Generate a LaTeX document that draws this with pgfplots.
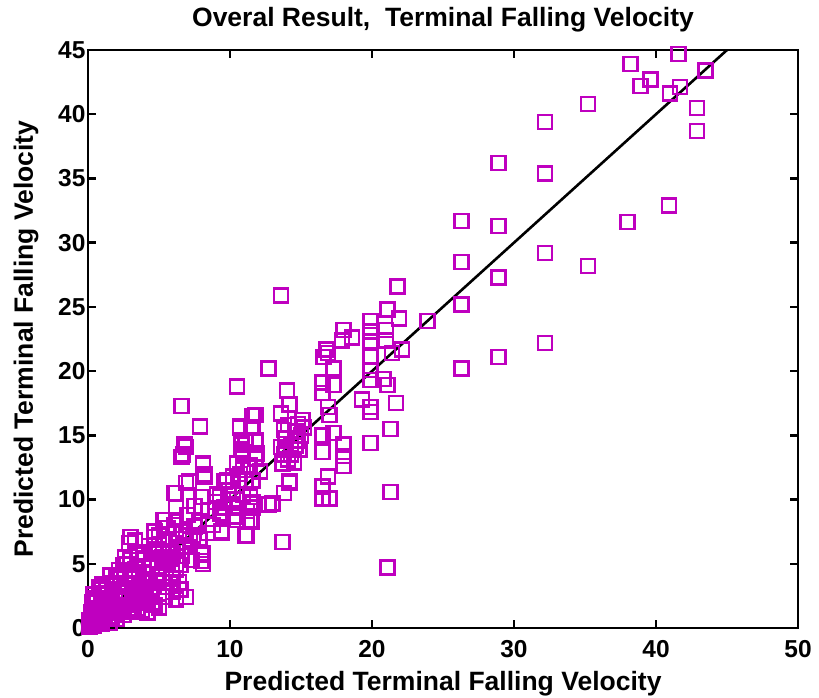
\documentclass[border=0pt]{standalone}
\usepackage{fontspec}
\setmainfont{Liberation Sans}
\usepackage{pgfplots}
\pgfplotsset{compat=1.18}
\definecolor{mag}{RGB}{191,0,191}

\begin{document}
\begin{tikzpicture}
\begin{axis}[
    scale only axis,
    width=710pt, height=578pt,
    xmin=0, xmax=50, ymin=0, ymax=45,
    xtick={0,10,...,50}, ytick={0,5,...,45},
    tick align=inside,
    major tick length=8pt,
    axis line style={line width=2.6pt},
    every tick/.style={black, line width=2.4pt},
    /pgf/number format/assume math mode=true,
    tick label style={font=\bfseries\fontsize{24.5}{26}\selectfont},
    xticklabel style={anchor=base, yshift=-30pt},
    yticklabel style={xshift=1pt},
    title={Overal Result,~~Terminal Falling Velocity},
    title style={font=\bfseries\fontsize{26.5}{28}\selectfont,
        at={(axis description cs:0.5,1.031)}, anchor=base},
    xlabel={Predicted Terminal Falling Velocity},
    ylabel={Predicted Terminal Falling Velocity},
    label style={font=\bfseries\fontsize{26.5}{28}\selectfont},
    xlabel style={at={(axis description cs:0.5,-0.109)}, anchor=base},
    ylabel style={at={(axis description cs:-0.0775,0.5)}, anchor=base},
    clip=false,
]
\addplot[only marks, mark=square, mark size=7pt, mag, line width=2.5pt] coordinates {
(38.2,43.9)(41.6,44.7)(39.6,42.7)(38.9,42.2)(41.0,41.6)(41.7,42.1)(43.5,43.4)
(42.9,40.5)(42.9,38.7)(35.2,40.8)(32.2,39.4)(28.9,36.2)(32.2,35.4)(26.3,31.7)
(28.9,31.3)(26.3,28.5)(28.9,27.3)(32.2,29.2)(35.2,28.2)(38.0,31.6)(40.9,32.9)
(26.3,25.2)(23.9,23.9)(26.3,20.2)(28.9,21.1)(32.2,22.2)
(13.6,25.9)(21.8,26.6)(21.1,24.8)(21.9,24.1)(19.9,23.9)(19.9,23.1)(18.0,23.2)
(18.6,22.6)(17.9,22.4)(21.0,23.2)(21.0,22.4)(22.1,21.7)(21.4,21.4)(19.9,22.3)
(19.9,21.1)(16.9,21.4)(16.8,21.7)(17.3,20.2)(19.9,20.1)(19.9,19.3)(20.8,19.4)
(21.1,18.9)(16.5,19.1)(17.3,18.9)(16.5,18.3)(21.7,17.5)(19.3,17.8)(19.9,17.2)
(19.9,16.8)(16.9,17.2)(17.0,16.6)(14.0,18.5)(14.2,17.4)(13.6,16.7)(21.3,15.5)
(19.9,14.4)(16.5,15.0)(17.3,15.2)(16.5,13.7)(18.0,14.3)(18.0,13.4)(18.0,12.6)
(16.9,11.8)(16.5,11.0)(16.5,10.1)(17.0,10.1)(21.3,10.6)(14.2,11.3)(13.8,10.5)
(13.0,9.7)(12.7,20.2)(21.1,4.7)(13.7,6.7)(16.6,21.1)
(13.7,12.8)(14.3,13.5)(14.6,14.2)(15.0,15.0)(14.1,15.8)(15.1,16.2)(14.8,14.6)
(13.9,13.9)(14.5,12.9)(15.2,15.6)(14.8,15.9)(14.9,13.9)(14.6,15.3)(13.8,15.4)
(13.9,14.8)(13.6,14.1)(14.3,14.3)(13.8,13.5)(14.1,13.1)(14.2,11.4)
(10.5,18.8)(6.6,17.3)(7.9,15.7)(6.9,14.1)(6.6,13.3)(8.1,12.7)(8.2,11.8)
(11.6,16.5)(10.7,15.6)(11.6,15.6)(11.8,14.6)(10.8,13.9)(11.8,13.2)(10.9,12.3)
(11.6,11.5)(9.8,11.5)(6.9,11.3)(6.2,10.5)(8.1,10.2)(9.3,10.2)(10.2,10.0)
(11.4,9.7)(12.7,9.6)(9.3,8.9)(10.2,8.7)(11.2,8.3)(9.4,7.4)(11.2,7.2)
(5.3,8.4)(4.7,7.5)(6.2,9.4)(6.2,8.4)(3.0,7.1)(6.2,7.4)(7.2,6.9)(8.1,5.8)
(8.1,5.0)(4.8,5.8)(3.0,5.3)(3.5,5.3)(2.5,4.9)(6.2,5.0)(5.2,4.0)(6.2,4.5)
(4.8,3.7)(6.5,3.0)(6.9,2.4)(6.2,2.2)(3.8,1.4)(0.8,3.2)(1.1,2.7)(1.8,3.5)(2.3,4.0)
(6.8,14.3)(6.7,13.5)(8.1,12.8)(8.2,12.0)(10.8,14.3)(10.9,13.6)(11.4,12.7)
(10.7,12.0)(7.1,11.4)(6.1,10.5)(8.0,10.2)(9.6,11.4)(9.9,10.7)(9.1,10.4)
(10.5,10.0)(11.4,10.2)(11.6,9.4)(8.0,9.1)(9.5,8.7)(10.5,8.4)(11.4,8.4)
(5.4,8.4)(6.1,8.0)(6.7,7.5)(7.4,7.2)(9.4,7.5)(11.1,7.2)(4.7,7.1)(5.4,6.9)
(6.2,6.6)(7.9,6.9)(4.7,6.1)(6.0,5.8)(8.0,5.7)(8.0,5.2)(3.9,5.4)(5.4,5.2)(6.5,4.9)
(11.8,16.6)(10.7,15.7)(11.5,15.6)(11.1,14.5)(11.8,14.5)(10.9,13.7)(11.9,13.6)
(10.5,12.8)(11.3,12.6)(12.1,12.2)(10.2,11.8)(11.1,11.5)(10.2,10.7)(10.9,10.4)
(11.6,9.8)(10.2,9.4)(11.2,9.1)(10.4,8.7)(11.5,8.3)
(3.2,3.0)(3.6,3.8)(4.0,4.2)(4.3,3.5)(4.5,4.8)(4.9,5.1)(5.2,5.5)(5.5,4.6)
(5.7,6.0)(5.9,5.4)(6.3,6.2)(6.6,5.6)(6.9,7.2)(7.2,6.3)(7.5,7.9)(7.8,7.0)
(5.0,6.5)(5.6,7.8)(5.8,3.5)(5.5,3.2)(6.0,3.8)(4.4,2.5)(4.1,3.0)(7.0,8.8)
(7.5,9.5)(8.5,9.2)(8.8,8.0)(9.0,9.8)(9.6,9.4)(8.4,7.4)(7.8,8.3)
(0.2,0.3)(0.3,0.8)(0.4,0.2)(0.5,1.0)(0.6,0.5)(0.7,1.4)(0.8,0.6)(0.9,1.8)
(1.0,1.0)(1.1,2.2)(1.2,0.8)(1.3,1.5)(1.4,2.6)(1.5,1.2)(1.6,2.0)(1.7,3.0)
(1.8,1.5)(1.9,2.4)(2.0,1.8)(2.1,2.9)(2.2,1.3)(2.3,3.3)(2.4,2.2)(2.5,2.8)
(2.6,4.2)(2.7,1.8)(2.8,3.4)(2.9,2.5)(3.0,3.8)(3.2,2.3)(3.3,4.6)(3.4,3.1)
(3.5,1.5)(3.6,4.0)(3.7,2.6)(3.8,3.5)(3.9,4.8)(4.0,2.8)(4.2,1.2)(4.5,2.0)
(2.6,5.5)(2.9,6.6)(3.3,6.8)(3.9,5.8)(0.1,0.1)(0.2,1.2)(0.3,2.0)(0.6,2.3)
(0.1,0.6)(0.4,1.5)(1.0,0.3)(1.5,0.4)(2.0,0.7)(2.5,1.0)(3.0,1.3)(5.0,1.6)
(0.9,3.0)(1.3,3.3)(2.0,3.9)(2.2,4.5)
(0.2,0.6)(0.3,0.4)(0.5,0.3)(0.6,1.2)(0.7,0.8)(0.8,1.1)(0.9,0.4)(1.1,1.5)
(1.2,1.9)(1.4,0.9)(1.6,1.6)(1.7,0.8)(1.9,1.2)(2.1,2.1)(2.3,1.7)(2.6,2.3)
(2.8,1.5)(3.1,2.7)(3.4,2.0)(3.6,3.3)(3.9,2.2)(4.2,3.8)(4.6,3.2)(4.9,4.2)
(5.3,3.6)(5.6,5.1)(5.9,4.3)(6.4,3.6)(6.8,6.4)(7.3,5.3)(4.7,1.8)(5.4,2.4)
(6.0,2.8)(0.4,2.6)(1.0,3.4)(1.6,4.1)(2.7,5.0)(3.5,5.9)(4.3,6.4)(5.0,7.2)
};
\addplot[black, line width=2.6pt] coordinates {(0,0) (45,45)};
\end{axis}
\pgfresetboundingbox
\path[use as bounding box] ([xshift=-88pt,yshift=-70pt]current axis.south west) rectangle ++(819pt,698pt);
\end{tikzpicture}
\end{document}
